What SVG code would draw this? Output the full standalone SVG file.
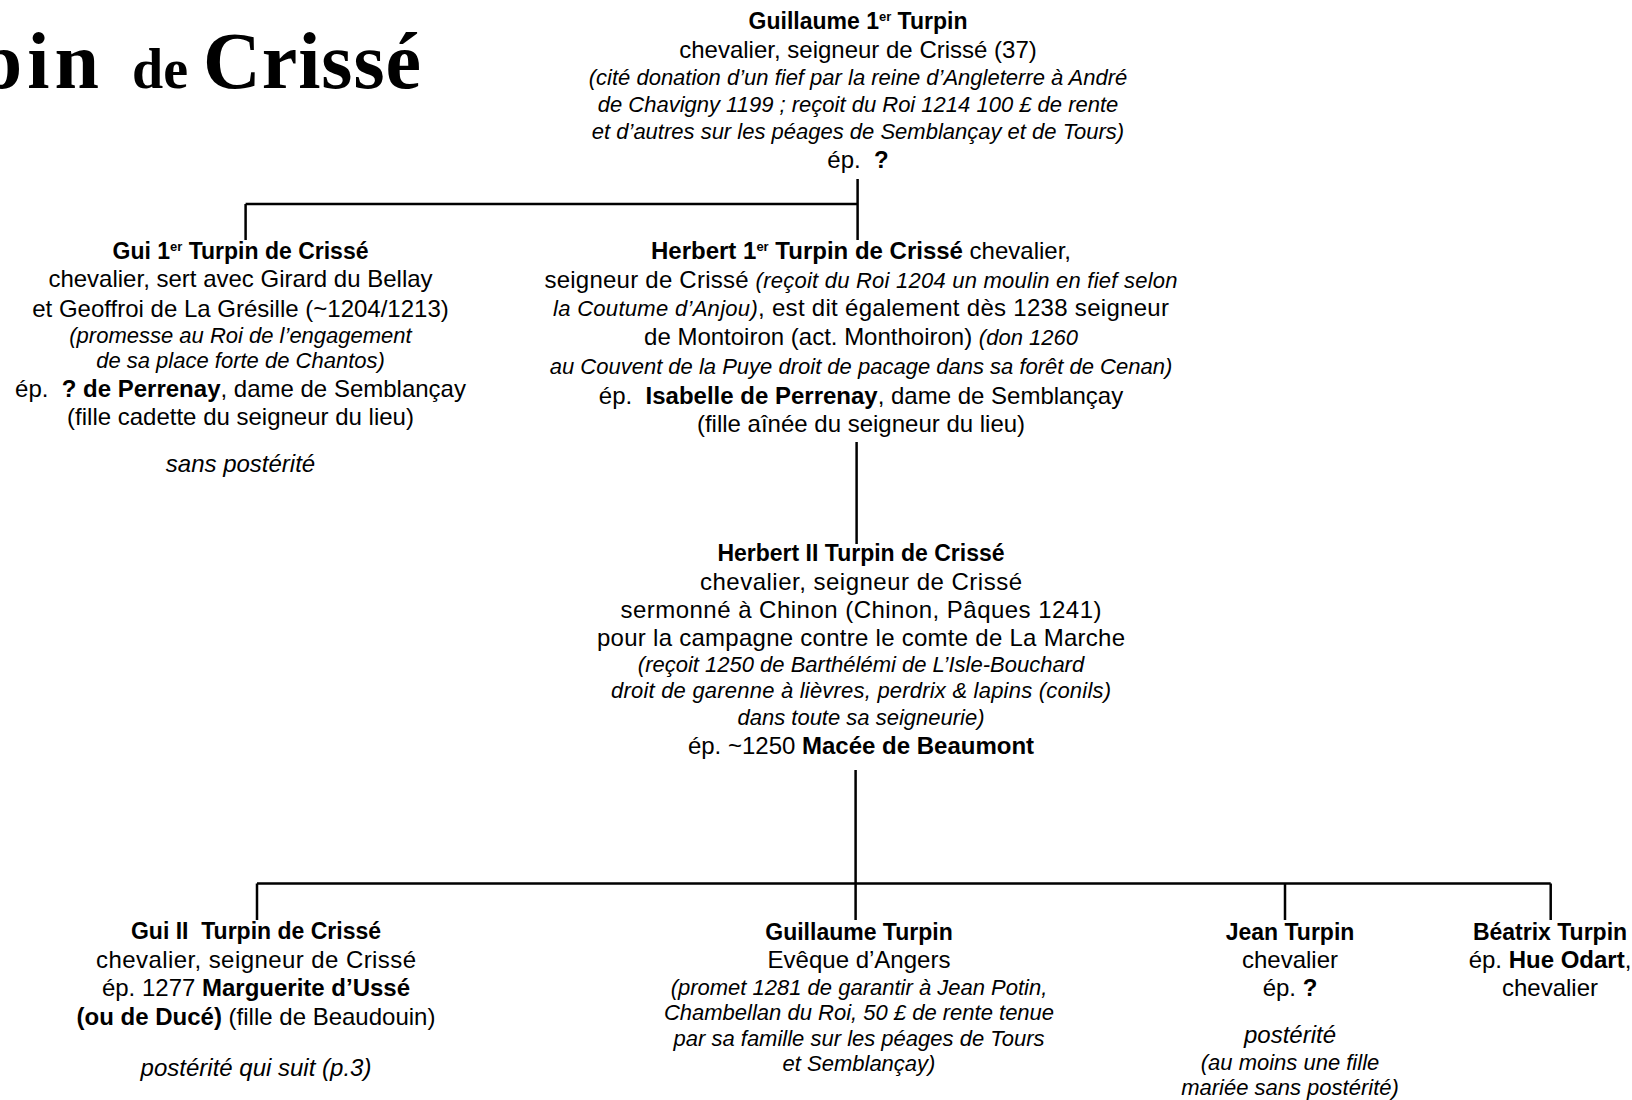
<svg xmlns="http://www.w3.org/2000/svg" width="1632" height="1100" viewBox="0 0 1632 1100">
<style>
text{font-family:"Liberation Sans",Arial,sans-serif;fill:#000;text-anchor:middle}
.r{font-size:24px}
.b{font-size:23px;font-weight:bold}
.i{font-size:22px;font-style:italic}
.n{font-size:24px;font-style:italic}
.sb{font-weight:bold}
.title{font-family:"Liberation Serif","Times New Roman",serif;font-weight:bold}
.te{text-anchor:end}
.ts{text-anchor:start}
.conn{stroke:#000;stroke-width:2.5;fill:none}
</style>
<rect width="1632" height="1100" fill="#fff"/>
<g id="title">
<text class="title te" x="104" y="88" font-size="80" letter-spacing="5">Turpin</text>
<text class="title ts" x="132" y="88" font-size="56">de</text>
<text class="title ts" x="203" y="88" font-size="80" textLength="218" lengthAdjust="spacing">Crissé</text>
</g>

<g id="connectors">
<path class="conn" d="M857.6,179V240M245.6,204H857.6M245.6,204V240"/>
<path class="conn" d="M856.6,442V544"/>
<path class="conn" d="M855.6,770V920M257,883.5H1550.7M257,883.5V920M1285,883.5V920M1550.7,883.5V920"/>
</g>

<g id="guillaume1">
<text class="b" x="858" y="29">Guillaume 1<tspan font-size="13" dy="-8">er</tspan><tspan dy="8"> Turpin</tspan></text>
<text class="r" x="858" y="58">chevalier, seigneur de Crissé (37)</text>
<text class="i" x="858" y="85">(cité donation d’un fief par la reine d’Angleterre à André</text>
<text class="i" x="858" y="112">de Chavigny 1199 ; reçoit du Roi 1214 100 £ de rente</text>
<text class="i" x="858" y="139">et d’autres sur les péages de Semblançay et de Tours)</text>
<text class="r" x="858" y="168" xml:space="preserve">ép.  <tspan class="sb">?</tspan></text>
</g>

<g id="gui1">
<text class="b" x="240.5" y="258.5">Gui 1<tspan font-size="13" dy="-8">er</tspan><tspan dy="8"> Turpin de Crissé</tspan></text>
<text class="r" x="240.5" y="287">chevalier, sert avec Girard du Bellay</text>
<text class="r" x="240.5" y="316.5">et Geoffroi de La Grésille (~1204/1213)</text>
<text class="i" x="240.5" y="342.5">(promesse au Roi de l’engagement</text>
<text class="i" x="240.5" y="368">de sa place forte de Chantos)</text>
<text class="r" x="240.5" y="396.5" xml:space="preserve">ép.  <tspan class="sb">? de Perrenay</tspan>, dame de Semblançay</text>
<text class="r" x="240.5" y="425">(fille cadette du seigneur du lieu)</text>
<text class="n" x="240.5" y="472">sans postérité</text>
</g>

<g id="herbert1">
<text class="r" x="861" y="259"><tspan class="sb">Herbert 1</tspan><tspan class="sb" font-size="13" dy="-8">er</tspan><tspan class="sb" dy="8"> Turpin de Crissé</tspan> chevalier,</text>
<text class="r" x="861" y="288" textLength="633" lengthAdjust="spacing">seigneur de Crissé <tspan class="i">(reçoit du Roi 1204 un moulin en fief selon</tspan></text>
<text class="r" x="861" y="316" textLength="616" lengthAdjust="spacing"><tspan class="i">la Coutume d’Anjou)</tspan>, est dit également dès 1238 seigneur</text>
<text class="r" x="861" y="344.5">de Montoiron (act. Monthoiron) <tspan class="i">(don 1260</tspan></text>
<text class="i" x="861" y="374">au Couvent de la Puye droit de pacage dans sa forêt de Cenan)</text>
<text class="r" x="861" y="403.5" xml:space="preserve">ép.  <tspan class="sb">Isabelle de Perrenay</tspan>, dame de Semblançay</text>
<text class="r" x="861" y="432">(fille aînée du seigneur du lieu)</text>
</g>

<g id="herbert2">
<text class="b" x="861" y="561">Herbert II Turpin de Crissé</text>
<text class="r" x="861" y="590" textLength="322" lengthAdjust="spacing">chevalier, seigneur de Crissé</text>
<text class="r" x="861" y="618" textLength="481" lengthAdjust="spacing">sermonné à Chinon (Chinon, Pâques 1241)</text>
<text class="r" x="861" y="646" textLength="528" lengthAdjust="spacing">pour la campagne contre le comte de La Marche</text>
<text class="i" x="861" y="672">(reçoit 1250 de Barthélémi de L’Isle-Bouchard</text>
<text class="i" x="861" y="698" textLength="500" lengthAdjust="spacing">droit de garenne à lièvres, perdrix &amp; lapins (conils)</text>
<text class="i" x="861" y="724.5">dans toute sa seigneurie)</text>
<text class="r" x="861" y="753.5">ép. ~1250 <tspan class="sb">Macée de Beaumont</tspan></text>
</g>

<g id="gui2">
<text class="b" x="256" y="939" xml:space="preserve">Gui II  Turpin de Crissé</text>
<text class="r" x="256" y="968" textLength="320" lengthAdjust="spacing">chevalier, seigneur de Crissé</text>
<text class="r" x="256" y="996">ép. 1277 <tspan class="sb">Marguerite d’Ussé</tspan></text>
<text class="r" x="256" y="1025"><tspan class="sb">(ou de Ducé)</tspan> (fille de Beaudouin)</text>
<text class="n" x="256" y="1076">postérité qui suit (p.3)</text>
</g>

<g id="guillaume2">
<text class="b" x="859" y="940">Guillaume Turpin</text>
<text class="r" x="859" y="968">Evêque d’Angers</text>
<text class="i" x="859" y="994.5">(promet 1281 de garantir à Jean Potin,</text>
<text class="i" x="859" y="1020">Chambellan du Roi, 50 £ de rente tenue</text>
<text class="i" x="859" y="1045.5">par sa famille sur les péages de Tours</text>
<text class="i" x="859" y="1071">et Semblançay)</text>
</g>

<g id="jean">
<text class="b" x="1290" y="940">Jean Turpin</text>
<text class="r" x="1290" y="968">chevalier</text>
<text class="r" x="1290" y="996">ép. <tspan class="sb">?</tspan></text>
<text class="n" x="1290" y="1043">postérité</text>
<text class="i" x="1290" y="1070">(au moins une fille</text>
<text class="i" x="1290" y="1095">mariée sans postérité)</text>
</g>

<g id="beatrix">
<text class="b" x="1550" y="940">Béatrix Turpin</text>
<text class="r" x="1550" y="968">ép. <tspan class="sb">Hue Odart</tspan>,</text>
<text class="r" x="1550" y="996">chevalier</text>
</g>
</svg>
